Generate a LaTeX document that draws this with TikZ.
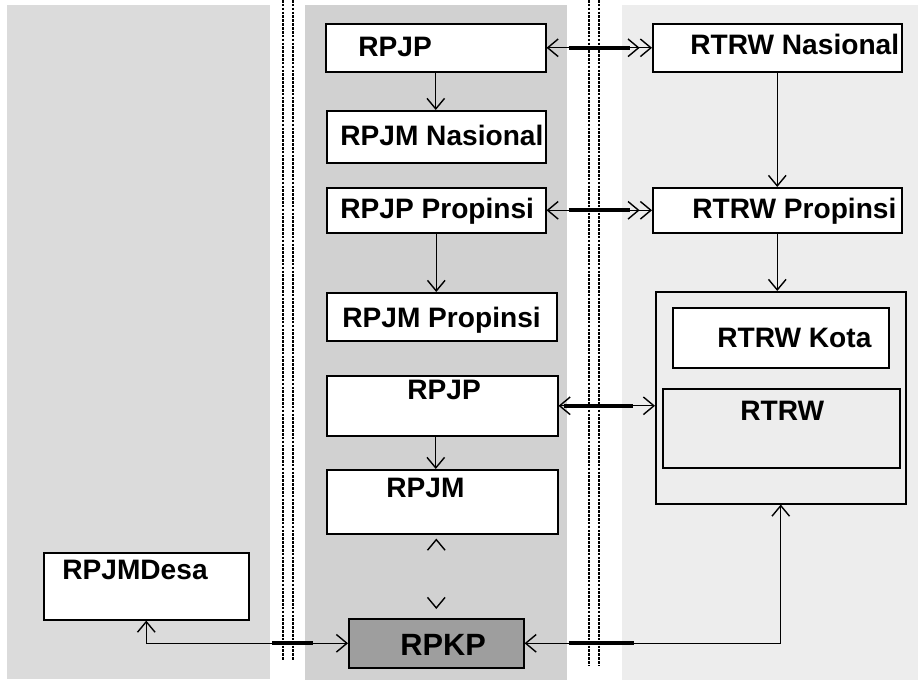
\documentclass[tikz,border=0pt]{standalone}
\usepackage{fontspec}
\setmainfont{Liberation Sans}
\usetikzlibrary{arrows.meta}

\definecolor{leftpanel}{gray}{0.86}
\definecolor{midpanel}{gray}{0.82}
\definecolor{rightpanel}{gray}{0.93}
\definecolor{rpkpfill}{gray}{0.62}

\tikzset{
  box/.style={draw, line width=0.9pt, fill=white, anchor=north west, inner sep=0pt},
  lbl/.style={anchor=base west, inner sep=0pt, font=\bfseries\fontsize{16}{19}\selectfont},
  link/.style={line width=0.8pt},
  bar/.style={line width=2.2pt},
  sep/.style={line width=0.8pt, dash pattern=on 1.5pt off 0.7pt},
  >={Straight Barb[length=6pt,width=10pt]}
}

\begin{document}
\begin{tikzpicture}[x=0.02cm, y=-0.02cm]
\useasboundingbox (0,0) rectangle (918,686);

% panels
\fill[leftpanel] (7,5) rectangle (270,679);
\fill[midpanel] (305,5) rectangle (567,680);
\fill[rightpanel] (622,5) rectangle (918,680);
\foreach \x/\b in {283/660, 293/660, 589/666, 599/666}
	\draw[sep] (\x,0) -- (\x,\b);

% planning column
\node[box, minimum width=4.4cm, minimum height=0.96cm] (rpjp) at (325,23) {};
\node[box, minimum width=4.38cm, minimum height=1.04cm] (rpjmNas) at (326,110) {};
\node[box, minimum width=4.38cm, minimum height=0.9cm] (rpjpProp) at (326,187) {};
\node[box, minimum width=4.6cm, minimum height=0.96cm] (rpjmProp) at (326,292) {};
\node[box, minimum width=4.62cm, minimum height=1.2cm] (rpjpKota) at (326,375) {};
\node[box, minimum width=4.62cm, minimum height=1.28cm] (rpjmKota) at (326,469) {};
\node[box, fill=rpkpfill, minimum width=3.5cm, minimum height=0.98cm] (rpkp) at (348,618) {};
\node[box, minimum width=4.1cm, minimum height=1.34cm] (rpjmDesa) at (43,552) {};

% spatial column
\node[box, minimum width=4.98cm, minimum height=0.96cm] (rtrwNas) at (652,23) {};
\node[box, minimum width=4.98cm, minimum height=0.9cm] (rtrwProp) at (652,187) {};
\node[box, fill=none, minimum width=5cm, minimum height=4.24cm] (rtrwBox) at (655,291) {};
\node[box, minimum width=4.32cm, minimum height=1.2cm] (rtrwKota) at (672,307) {};
\node[box, fill=none, minimum width=4.74cm, minimum height=1.58cm] (rtrw) at (662,388) {};

% texts
\node[lbl] (t1) at (358,57) {RPJP};
\node[lbl] (t2) at (340,145) {RPJM Nasional};
\node[lbl] (t3) at (340,218) {RPJP Propinsi};
\node[lbl] (t4) at (342,327) {RPJM Propinsi};
\node[lbl] (t5) at (407,399) {RPJP};
\node[lbl] (t6) at (386,497) {RPJM};
\node[lbl, font=\bfseries\fontsize{17.5}{20}\selectfont] (t7) at (400,655) {RPKP};
\node[lbl] (t8) at (62,579) {RPJMDesa};
\node[lbl] (t9) at (690,55) {RTRW Nasional};
\node[lbl] (t10) at (692,218) {RTRW Propinsi};
\node[lbl] (t11) at (717,347) {RTRW Kota};
\node[lbl] (t12) at (740,420) {RTRW};

% downward links
\draw[link,->] (rpjp.south) -- (rpjp.south |- rpjmNas.north);
\draw[link,->] (rpjpProp.south) -- (rpjpProp.south |- rpjmProp.north);
\draw[link,->] (rpjp.south |- rpjpKota.south) -- (rpjp.south |- rpjmKota.north);
\draw[link,->] (rtrwNas.south) -- (rtrwNas.south |- rtrwProp.north);
\draw[link,->] (rtrwProp.south) -- (rtrwProp.south |- rtrwBox.north);
\draw[link, draw=midpanel, {Straight Barb[length=6pt,width=10pt,color=black]}-{Straight Barb[length=6pt,width=10pt,color=black]},
  shorten <=0.08cm, shorten >=0.18cm] (rpkp.north |- rpjmKota.south) -- (rpkp.north);

% links across the columns
\draw[link,<->>] (rpjp.east) -- coordinate[pos=0.21] (a1) coordinate[pos=0.79] (a2) (rtrwNas.west);
\draw[bar] (a1) -- (a2);
\draw[link,<->>] (rpjpProp.east) -- coordinate[pos=0.21] (b1) coordinate[pos=0.79] (b2) (rtrwProp.west);
\draw[bar] (b1) -- (b2);
\draw[link,<->] (rpjpKota.east) -- coordinate[pos=0.06] (c1) coordinate[pos=0.77] (c2) (rpjpKota.east -| rtrwBox.west);
\draw[bar] (c1) -- (c2);
\draw[link,<->] (rpkp.east) -| coordinate[pos=0.086] (d1) coordinate[pos=0.214] (d2) (rtrwBox.south);
\draw[bar] (d1) -- (d2);
\draw[link,<->] (rpjmDesa.south) |- coordinate[pos=0.8125] (e1) coordinate[pos=0.914] (e2) (rpkp.west);
\draw[bar] (e1) -- (e2);
\end{tikzpicture}
\end{document}
